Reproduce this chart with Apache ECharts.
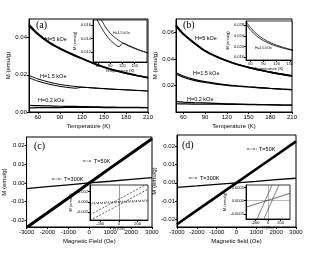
<!DOCTYPE html>
<html>
<head>
<meta charset="utf-8">
<script src="https://cdn.jsdelivr.net/npm/echarts@6/dist/echarts.min.js"></script>
<style>
  html, body { margin: 0; padding: 0; background: #fff; }
  #chart { width: 320px; height: 269px; }
</style>
</head>
<body>
<div id="chart"></div>
<script>
// (a) M vs T, temperature in K, M in emu/g
const tempA = [48, 60, 75, 90, 105, 112, 120, 135, 150, 165, 180, 195, 210]
const a5kFC = [0.0470, 0.0422, 0.0377, 0.0343, 0.0314, 0.0302, 0.0289, 0.0263, 0.0242, 0.0224, 0.0209, 0.0196, 0.0185]
const a5kZFC = [0.0464, 0.0417, 0.0373, 0.0340, 0.0312, 0.0300, 0.0287, 0.0262, 0.0241, 0.0223, 0.0208, 0.0196, 0.0185]
const a15kFC = [0.0196, 0.0178, 0.0161, 0.0148, 0.0140, 0.0137, 0.0134, 0.0130, 0.0126, 0.0122, 0.0119, 0.0116, 0.0113]
const a15kZFC = [0.0184, 0.0166, 0.0150, 0.0138, 0.0130, 0.0128, 0.0133, 0.0129, 0.0125, 0.0122, 0.0119, 0.0116, 0.0113]
const a02kFC = [0.0036, 0.0034, 0.0033, 0.0031, 0.0030, 0.0030, 0.0029, 0.0028, 0.0027, 0.0026, 0.0025, 0.0025, 0.0024]
const a02kZFC = [0.0022, 0.0023, 0.0024, 0.0024, 0.0025, 0.0025, 0.0025, 0.0025, 0.0024, 0.0024, 0.0024, 0.0023, 0.0023]

// (b)
const tempB = [50, 60, 75, 90, 105, 120, 135, 150, 165, 180, 195, 210]
const b5kFC = [0.0655, 0.0590, 0.0522, 0.0462, 0.0420, 0.0386, 0.0358, 0.0336, 0.0316, 0.0300, 0.0285, 0.0272]
const b5kZFC = [0.0648, 0.0585, 0.0518, 0.0459, 0.0418, 0.0385, 0.0357, 0.0335, 0.0316, 0.0300, 0.0285, 0.0272]
const b15kFC = [0.0295, 0.0271, 0.0246, 0.0228, 0.0215, 0.0205, 0.0197, 0.0190, 0.0184, 0.0178, 0.0173, 0.0168]
const b15kZFC = [0.0286, 0.0262, 0.0238, 0.0222, 0.0210, 0.0201, 0.0194, 0.0188, 0.0182, 0.0177, 0.0172, 0.0168]
const b02kFC = [0.0078, 0.0075, 0.0071, 0.0068, 0.0065, 0.0062, 0.0060, 0.0058, 0.0056, 0.0055, 0.0053, 0.0052]
const b02kZFC = [0.0062, 0.0061, 0.0060, 0.0060, 0.0059, 0.0058, 0.0057, 0.0056, 0.0055, 0.0054, 0.0052, 0.0051]

// (c), (d) M vs H, field in Oe
const field = [-3000, -2000, -1000, 0, 1000, 2000, 3000]
const c50K = [-0.0238, -0.0159, -0.0080, 0.0000, 0.0079, 0.0157, 0.0236]
const c300K = [-0.0030, -0.0020, -0.0010, 0.0000, 0.0009, 0.0019, 0.0028]
const d50K = [-0.0225, -0.0150, -0.0075, 0.0000, 0.0075, 0.0150, 0.0225]
const d300K = [-0.0025, -0.0017, -0.0008, 0.0000, 0.0008, 0.0017, 0.0025]

// insets of (c) and (d): low field loops
const cLoopField = [-310, 310]
const c50KUp = [-0.0036, 0.0025]
const c50KDown = [-0.0025, 0.0036]
const c300KUp = [-0.0004, 0.0002]
const c300KDown = [-0.0002, 0.0004]
const dLoopField = [-350, 350]
const d300KLoop = [-0.00025, 0.00028]
const d50KUpField = [-175, 65]
const d50KDownField = [-65, 175]
const d50KLoop = [-0.0007, 0.0006]

const zip = (xs, ys) => xs.map((x, i) => [x, ys[i]])

function axis(gridIndex, min, max, labels, fs, fmt, extra) {
  return Object.assign({
    type: 'value',
    gridIndex,
    min,
    max,
    axisLine: { onZero: false, lineStyle: { color: '#000', width: 1 } },
    axisTick: { customValues: labels, length: 2, lineStyle: { color: '#000' } },
    axisLabel: { customValues: labels, fontSize: fs, color: '#000', margin: 2, formatter: fmt, fontFamily: 'Liberation Sans' },
    splitLine: { show: false },
    nameTextStyle: { fontSize: fs, color: '#000', fontFamily: 'Liberation Sans' },
    nameLocation: 'middle'
  }, extra || {})
}

const f2 = v => v.toFixed(2)
const f3 = v => v.toFixed(3)
const f4 = v => v.toFixed(4)
const fi = v => String(v)

function line(xi, data, width, extra) {
  return Object.assign({
    type: 'line',
    xAxisIndex: xi,
    yAxisIndex: xi,
    data,
    showSymbol: false,
    smooth: 0.3,
    lineStyle: { color: '#000', width },
    itemStyle: { color: '#000' },
    silent: true,
    animation: false
  }, extra || {})
}

const chart = echarts.init(document.getElementById('chart'))

const mainGrid = { show: true, borderColor: '#000', borderWidth: 1, backgroundColor: 'transparent' }
const insetGrid = { show: true, borderColor: '#000', borderWidth: 0.8, backgroundColor: '#fff', z: 5 }
const insetZ = { z: 6 }

const txt = (x, y, s, size, font) => ({
  type: 'text', left: x, top: y, z: 20,
  style: { text: s, fontSize: size, fill: '#000', fontFamily: font || 'Liberation Sans' }
})
const legendLine = (x1, x2, y) => ({
  type: 'line', z: 20,
  shape: { x1, y1: y, x2, y2: y },
  style: { stroke: '#000', lineWidth: 0.8, lineDash: [2.5, 1.2, 0.8, 1.2] }
})

chart.setOption({
  animation: false,
  grid: [
    Object.assign({ left: 29, top: 19, width: 119, height: 93 }, mainGrid),
    Object.assign({ left: 176, top: 19, width: 116, height: 93 }, mainGrid),
    Object.assign({ left: 25, top: 137, width: 127, height: 90 }, mainGrid),
    Object.assign({ left: 177, top: 135, width: 119, height: 92 }, mainGrid),
    Object.assign({ left: 93, top: 20, width: 54, height: 42 }, insetGrid),
    Object.assign({ left: 246, top: 21, width: 46, height: 39 }, insetGrid),
    Object.assign({ left: 90, top: 185, width: 58, height: 35 }, insetGrid),
    Object.assign({ left: 246, top: 185, width: 44, height: 34 }, insetGrid)
  ],
  xAxis: [
    axis(0, 48, 210, [60, 90, 120, 150, 180, 210], 6, fi, { name: 'Temperature (K)', nameGap: 11 }),
    axis(1, 50, 210, [60, 90, 120, 150, 180, 210], 6, fi, { name: 'Temperature (K)', nameGap: 11 }),
    axis(2, -3000, 3000, [-3000, -2000, -1000, 0, 1000, 2000, 3000], 6, fi, { name: 'Magnetic Field (Oe)', nameGap: 11 }),
    axis(3, -3000, 3000, [-3000, -2000, -1000, 0, 1000, 2000, 3000], 6, fi, { name: 'Magnetic field (Oe)', nameGap: 11 }),
    axis(4, 48, 180, [60, 90, 120, 150], 4, fi, Object.assign({ name: 'Temperature (K)', nameGap: 6 }, insetZ)),
    axis(5, 50, 155, [60, 90, 120, 150], 4, fi, Object.assign({ name: 'Temperature (K)', nameGap: 6 }, insetZ)),
    axis(6, -310, 310, [-200, 0, 200], 4, fi, Object.assign({ name: 'H (Oe)', nameGap: 6 }, insetZ)),
    axis(7, -350, 350, [-200, 0, 200], 4, fi, Object.assign({ name: 'H (Oe)', nameGap: 6 }, insetZ))
  ],
  yAxis: [
    axis(0, 0, 0.05, [0, 0.02, 0.04], 6, f2, { name: 'M (emu/g)', nameGap: 17 }),
    axis(1, 0, 0.07, [0.02, 0.04, 0.06], 6, f2, { name: 'M (emu/g)', nameGap: 17 }),
    axis(2, -0.0235, 0.0245, [-0.02, -0.01, 0, 0.01, 0.02], 6, f2, { name: 'M (emu/g)', nameGap: 18 }),
    axis(3, -0.024, 0.026, [-0.02, -0.01, 0, 0.01, 0.02], 6, f2, { name: 'M (emu/g)', nameGap: 18 }),
    axis(4, 0.0105, 0.0168, [0.012, 0.014, 0.016], 4, f3, Object.assign({ name: 'M (emu/g)', nameGap: 13 }, insetZ)),
    axis(5, 0.015, 0.0295, [0.016, 0.020, 0.024, 0.028], 4, f3, Object.assign({ name: 'M (emu/g)', nameGap: 13 }, insetZ)),
    axis(6, -0.0035, 0.0033, [-0.002, 0, 0.002], 4, f3, Object.assign({ name: 'M (emu/g)', nameGap: 14 }, insetZ)),
    axis(7, -0.0007, 0.0006, [-0.0005, 0, 0.0005], 4, f4, Object.assign({ name: 'M (emu/g)', nameGap: 15 }, insetZ))
  ],
  series: [
    // (a)
    line(0, zip(tempA, a5kFC), 1.6),
    line(0, zip(tempA, a5kZFC), 1.6),
    line(0, zip(tempA, a15kFC), 1),
    line(0, zip(tempA, a15kZFC), 1),
    line(0, zip(tempA, a02kFC), 1.2),
    line(0, zip(tempA, a02kZFC), 1.2),
    // (b)
    line(1, zip(tempB, b5kFC), 1.6),
    line(1, zip(tempB, b5kZFC), 1.6),
    line(1, zip(tempB, b15kFC), 1.2),
    line(1, zip(tempB, b15kZFC), 1.2),
    line(1, zip(tempB, b02kFC), 1.2),
    line(1, zip(tempB, b02kZFC), 1.2),
    // (c)
    line(2, zip(field, c50K), 3, { smooth: false }),
    line(2, zip(field, c300K), 1.3, { smooth: false }),
    // (d)
    line(3, zip(field, d50K), 2.6, { smooth: false }),
    line(3, zip(field, d300K), 1.3, { smooth: false }),
    // inset (a)
    line(4, zip(tempA, a15kFC), 0.8, { z: 7 }),
    line(4, zip(tempA, a15kZFC), 0.8, { z: 7 }),
    // inset (b)
    line(5, zip(tempB, b15kFC), 0.8, { z: 7 }),
    line(5, zip(tempB, b15kZFC), 0.8, { z: 7 }),
    // inset (c)
    line(6, zip(cLoopField, c50KUp), 0.6, { z: 7, smooth: false, lineStyle: { color: '#000', width: 0.6, type: [2, 1.5] },
      markLine: { silent: true, symbol: 'none', label: { show: false }, lineStyle: { color: '#555', width: 0.6, type: 'solid' }, data: [{ xAxis: 0 }] } }),
    line(6, zip(cLoopField, c50KDown), 0.6, { z: 7, smooth: false, lineStyle: { color: '#000', width: 0.6, type: [2, 1.5] } }),
    line(6, zip(cLoopField, c300KUp), 0.6, { z: 7, smooth: false, lineStyle: { color: '#000', width: 0.6, type: [2, 1.5] } }),
    line(6, zip(cLoopField, c300KDown), 0.6, { z: 7, smooth: false, lineStyle: { color: '#000', width: 0.6, type: [1, 1] } }),
    // inset (d)
    line(7, zip(dLoopField, d300KLoop), 0.7, { z: 7, smooth: false, lineStyle: { color: '#333', width: 0.7 },
      markLine: { silent: true, symbol: 'none', label: { show: false }, lineStyle: { color: '#888', width: 0.6, type: 'solid' }, data: [{ xAxis: 0 }, { yAxis: 0 }] } }),
    line(7, zip(d50KUpField, d50KLoop), 0.6, { z: 7, smooth: false, lineStyle: { color: '#333', width: 0.6 } }),
    line(7, zip(d50KDownField, d50KLoop), 0.6, { z: 7, smooth: false, lineStyle: { color: '#333', width: 0.6 } })
  ],
  graphic: [
    txt(36, 20, '(a)', 10, 'Liberation Serif'),
    txt(183, 20, '(b)', 10, 'Liberation Serif'),
    txt(34, 141, '(c)', 10, 'Liberation Serif'),
    txt(182, 140, '(d)', 10, 'Liberation Serif'),
    txt(45, 36, 'H=5 kOe', 5.5),
    txt(40, 73, 'H=1.5 kOe', 5.5),
    txt(38, 97, 'H=0.2 kOe', 5.5),
    txt(113, 31, 'H=1.5 kOe', 3.5),
    txt(195, 35, 'H=5 kOe', 5.5),
    txt(193, 70, 'H=1.5 kOe', 5.5),
    txt(187, 96, 'H=0.2 kOe', 5.5),
    txt(255, 46, 'H=1.5 kOe', 3.5),
    legendLine(83, 92, 161), txt(94, 158, 'T=50K', 5.5),
    legendLine(52, 62, 179), txt(64, 176, 'T=300K', 5.5),
    legendLine(247, 257, 149), txt(259, 146, 'T=50K', 5.5),
    legendLine(189, 198, 178), txt(200, 175, 'T=300K', 5.5)
  ]
})
</script>
</body>
</html>
